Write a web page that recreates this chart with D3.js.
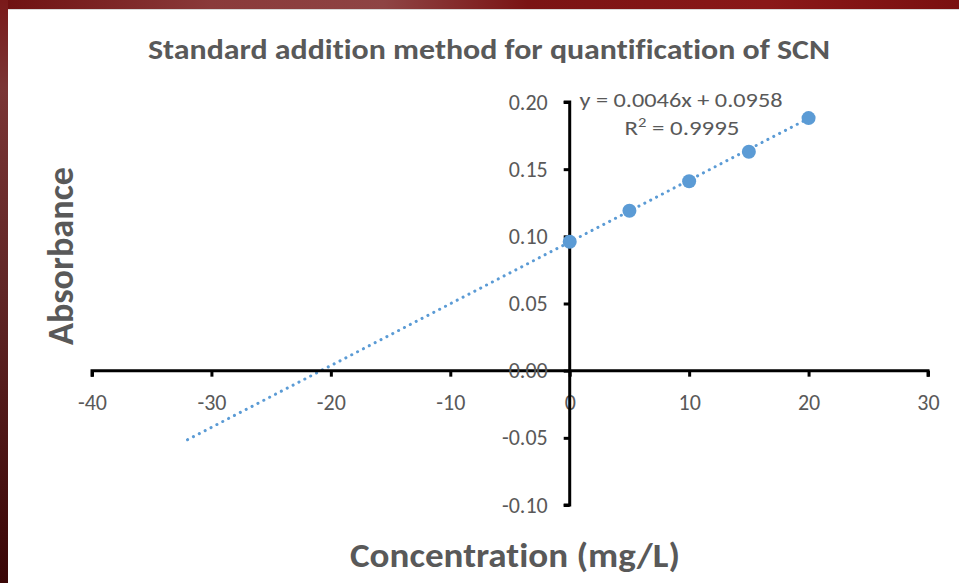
<!DOCTYPE html>
<html><head><meta charset="utf-8">
<script src="https://cdn.jsdelivr.net/npm/d3@7"></script>
<style>html,body{margin:0;padding:0;background:#fff;}svg{display:block;}text{font-variant-ligatures:none;}</style>
</head><body>
<svg id="c" width="959" height="583"></svg>
<script>
const concentration = [0, 5, 10, 15, 20];
const absorbance = [0.096, 0.119, 0.141, 0.163, 0.188];
const xTicks = [-40, -30, -20, -10, 0, 10, 20, 30];
const yTicks = [-0.10, -0.05, 0.00, 0.05, 0.10, 0.15, 0.20];
const trendSlope = 0.0046, trendIntercept = 0.0958;
const trendRange = [-32, 20];
const titleText = "Standard addition method for quantification of SCN";
const xTitle = "Concentration (mg/L)";
const yTitle = "Absorbance";
const eqText = "y = 0.0046x + 0.0958";

const svg = d3.select("#c");
const defs = svg.append("defs");
const gTop = defs.append("linearGradient").attr("id","gt").attr("x1","0").attr("x2","1");
[["0","#6e1010"],["0.22","#8a3a3a"],["0.4","#8e4444"],["0.55","#7a1414"],["0.8","#8a1818"],["1","#7a1010"]].forEach(d=>gTop.append("stop").attr("offset",d[0]).attr("stop-color",d[1]));
const gLeft = defs.append("linearGradient").attr("id","gl").attr("x1","0").attr("x2","0").attr("y1","0").attr("y2","1");
[["0","#7a1a1a"],["0.15","#7a3535"],["0.5","#602626"],["1","#3a0606"]].forEach(d=>gLeft.append("stop").attr("offset",d[0]).attr("stop-color",d[1]));
svg.append("rect").attr("x",0).attr("y",0).attr("width",959).attr("height",583).attr("fill","#fff");
svg.append("rect").attr("x",0).attr("y",0).attr("width",959).attr("height",9).attr("fill","url(#gt)");
svg.append("rect").attr("x",0).attr("y",0).attr("width",8).attr("height",583).attr("fill","url(#gl)");
svg.append("rect").attr("x",8).attr("y",9).attr("width",951).attr("height",1).attr("fill","#d8d8d8");

const x = d3.scaleLinear().domain([-40, 30]).range([92, 928]);
const y = d3.scaleLinear().domain([-0.10, 0.20]).range([505, 102]);
const font = "Carlito, Calibri, 'Open Sans', 'Liberation Sans', sans-serif";
const gray = "#595959";

// trendline
svg.append("line")
  .attr("x1", x(trendRange[0])).attr("y1", y(trendSlope*trendRange[0]+trendIntercept))
  .attr("x2", x(trendRange[1])).attr("y2", y(trendSlope*trendRange[1]+trendIntercept))
  .attr("stroke","#5b9bd5").attr("stroke-width",3).attr("stroke-dasharray","0.1 6.5").attr("stroke-linecap","round");

// x axis
const xAxis = d3.axisBottom(x).tickValues(xTicks).tickSize(6).tickPadding(18);
const gx = svg.append("g").attr("transform",`translate(0,${y(0)})`).call(xAxis);
gx.select(".domain").attr("stroke","#000").attr("stroke-width",3).attr("d",`M${x(-40)},6V0H${x(30)}V6`);
gx.selectAll(".tick line").attr("stroke","#000").attr("stroke-width",3);
gx.selectAll(".tick text").attr("fill",gray).style("font-size","22px").style("font-family",font).text(d=>String(d));

// y axis
const yAxis = d3.axisLeft(y).tickValues(yTicks).tickSize(6).tickPadding(16);
const gy = svg.append("g").attr("transform",`translate(${x(0)},0)`).call(yAxis);
gy.select(".domain").attr("stroke","#000").attr("stroke-width",3).attr("d",`M-6,${y(0.20)}H0V${y(-0.10)}H-6`);
gy.selectAll(".tick line").attr("stroke","#000").attr("stroke-width",3);
gy.selectAll(".tick text").attr("fill",gray).style("font-size","22px").style("font-family",font)
  .text(d=>d3.format(".2f")(d).replace("\u2212","-"));

// points
svg.append("g").selectAll("circle").data(concentration).join("circle")
  .attr("cx",(d)=>x(d)).attr("cy",(d,i)=>y(absorbance[i])).attr("r",7).attr("fill","#5b9bd5");

// texts
svg.append("text").attr("x",489).attr("y",59).attr("text-anchor","middle").attr("fill",gray)
  .attr("textLength",682).attr("lengthAdjust","spacingAndGlyphs")
  .style("font-family",font).style("font-size","29px").style("font-weight","bold").text(titleText);
svg.append("text").attr("x",515).attr("y",567).attr("text-anchor","middle").attr("fill",gray)
  .attr("textLength",330).attr("lengthAdjust","spacingAndGlyphs")
  .style("font-family",font).style("font-size","34px").style("font-weight","bold").text(xTitle);
svg.append("text").attr("transform","translate(73,256) rotate(-90)").attr("text-anchor","middle").attr("fill",gray)
  .attr("textLength",178).attr("lengthAdjust","spacingAndGlyphs")
  .style("font-family",font).style("font-size","37px").style("font-weight","bold").text(yTitle);
svg.append("text").attr("x",681).attr("y",107).attr("text-anchor","middle").attr("fill",gray)
  .attr("textLength",203).attr("lengthAdjust","spacingAndGlyphs")
  .style("font-family",font).style("font-size","21px").text(eqText);
const r2 = svg.append("text").attr("x",682).attr("y",135).attr("text-anchor","middle").attr("fill",gray)
  .attr("textLength",115).attr("lengthAdjust","spacingAndGlyphs")
  .style("font-family",font).style("font-size","21px");
r2.append("tspan").text("R");
r2.append("tspan").attr("dy",-8).style("font-size","14px").text("2");
r2.append("tspan").attr("dy",8).text(" = 0.9995");
</script>
</body></html>
